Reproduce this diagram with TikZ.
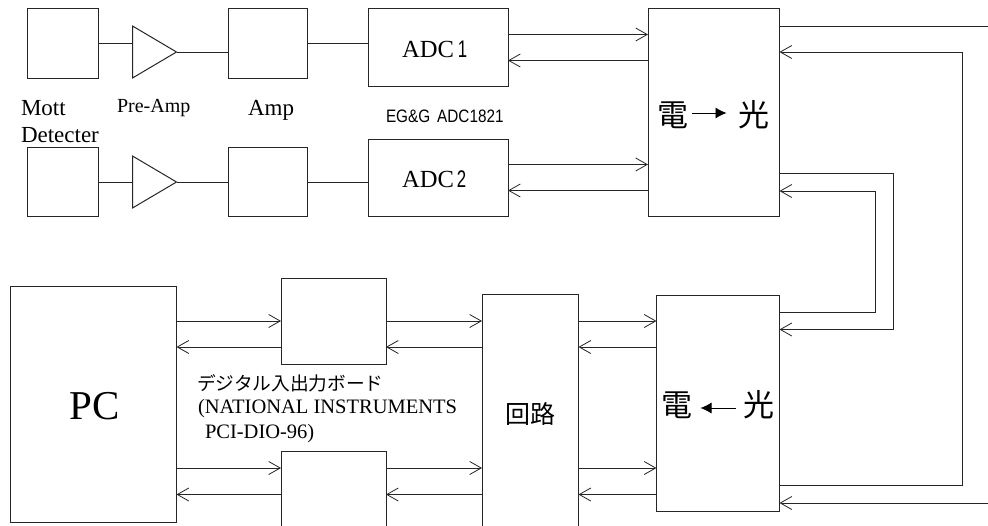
\documentclass[tikz,border=0pt]{standalone}
\usepackage{fontspec}
\setmainfont{Liberation Serif}
\newfontfamily\jpf{Noto Sans CJK JP}
\newfontfamily\arf{Liberation Sans}
\usetikzlibrary{arrows.meta}
\newcommand{\fs}[1]{\fontsize{#1}{#1}\selectfont}
\definecolor{ln}{gray}{0.15}
\tikzset{
  x=1pt,y=-1pt,
  box/.style={draw=ln,line width=1pt,rectangle,inner sep=0pt,outer sep=0pt,anchor=north west},
  txt/.style={inner sep=0pt,outer sep=0pt,anchor=base west,text=black,align=left},
  ctr/.style={inner sep=0pt,outer sep=0pt,anchor=center,text=black},
  sig/.style={-{Straight Barb[length=11.5pt,width=13pt,line width=0.8pt]}},
  solid/.style={-{Latex[length=11pt,width=11pt]},line width=0.8pt}
}
\newcommand{\bx}[5]{\node[box,minimum width=#4pt-#2pt,minimum height=#5pt-#3pt] (#1) at (#2,#3) {};}
\begin{document}
\begin{tikzpicture}[line width=1pt,color=ln]
\fill[white] (0,0) rectangle (988,525);
\clip (0,0) rectangle (988,525);
\bx{det1}{27.5}{8.5}{98}{78}
\bx{det2}{27.5}{147.5}{98}{216.5}
\bx{amp1}{228.5}{8.5}{307}{78}
\bx{amp2}{228.5}{147.5}{307}{216.5}
\bx{adc1}{368.5}{8.5}{508}{86.5}
\bx{adc2}{368.5}{139}{508}{216.5}
\bx{eo1}{648}{8.5}{779.5}{216.5}
\bx{eo2}{656.5}{295}{779.5}{511.5}
\bx{pc}{10}{286}{176.5}{522}
\bx{board1}{281}{278}{386}{364}
\bx{board2}{281}{451}{386}{530}
\bx{circ}{482}{294.5}{578.5}{530}
% triangles
\coordinate (t1i) at (132.5,43); \coordinate (t1o) at (176.5,52);
\coordinate (t2i) at (132.5,182); \coordinate (t2o) at (176.5,182);
\draw (132.5,26) -- (t1o) -- (132.5,78) -- cycle;
\draw (132.5,156) -- (t2o) -- (132.5,208) -- cycle;
% analog chain
\draw (det1.east |- t1i) -- (t1i);
\draw (t1o) -- (amp1.west |- t1o);
\draw (amp1.east |- t1i) -- (adc1.west |- t1i);
\draw (det2.east |- t2i) -- (t2i);
\draw (t2o) -- (amp2.west |- t2o);
\draw (amp2.east |- t2i) -- (adc2.west |- t2i);
% ADC <-> E/O 1
\draw[sig] (adc1.east |- 0,34.5) -- (eo1.west |- 0,34.5);
\draw[sig] (eo1.west |- 0,60.5) -- (adc1.east |- 0,60.5);
\draw[sig] (adc2.east |- 0,164.5) -- (eo1.west |- 0,164.5);
\draw[sig] (eo1.west |- 0,190.5) -- (adc2.east |- 0,190.5);
% right side
\coordinate (edgeA) at (988,26);
\coordinate (edgeB) at (988,503);
\draw (eo1.east |- edgeA) -- (edgeA);
\draw[sig] (eo2.east |- 0,485.5) -- (962.5,485.5) -- (962.5,52) -- (eo1.east |- 0,52);
\draw[sig] (edgeB) -- (eo2.east |- edgeB);
\draw[sig] (eo1.east |- 0,173.5) -- (893,173.5) -- (893,329.5) -- (eo2.east |- 0,329.5);
\draw[sig] (eo2.east |- 0,312) -- (875.5,312) -- (875.5,191) -- (eo1.east |- 0,191);
% PC <-> boards
\draw[sig] (pc.east |- 0,321) -- (board1.west |- 0,321);
\draw[sig] (board1.west |- 0,347) -- (pc.east |- 0,347);
\draw[sig] (pc.east |- 0,468) -- (board2.west |- 0,468);
\draw[sig] (board2.west |- 0,494.5) -- (pc.east |- 0,494.5);
% boards <-> circuit
\draw[sig] (board1.east |- 0,321) -- (circ.west |- 0,321);
\draw[sig] (circ.west |- 0,347) -- (board1.east |- 0,347);
\draw[sig] (board2.east |- 0,468) -- (circ.west |- 0,468);
\draw[sig] (circ.west |- 0,494.5) -- (board2.east |- 0,494.5);
% circuit <-> E/O 2
\draw[sig] (circ.east |- 0,321) -- (eo2.west |- 0,321);
\draw[sig] (eo2.west |- 0,347) -- (circ.east |- 0,347);
\draw[sig] (circ.east |- 0,468) -- (eo2.west |- 0,468);
\draw[sig] (eo2.west |- 0,494.5) -- (circ.east |- 0,494.5);
% labels
\node[txt,font=\fs{23}] (l1) at (21,115) {Mott};
\node[txt,font=\fs{23}] (l2) at (21,142) {Detecter};
\node[txt,font=\fs{20}] (l3) at (117,112) {Pre-Amp};
\node[txt,font=\fs{23}] (l4) at (248,115) {Amp};
\node[txt,font=\fs{24.6}] (l5) at (402,57) {ADC\hspace{4pt}{\arf\fs{24}\addfontfeature{FakeStretch=0.7}1}};
\node[txt,font=\fs{24.6}] (l6) at (402,187) {ADC\hspace{3pt}{\arf\fs{24}\addfontfeature{FakeStretch=0.7}2}};
\node[txt,font=\arf\fs{18}] (l7) at (386,122.5) {\addfontfeature{FakeStretch=0.85}EG\&G\hspace{7pt}ADC1821};
\node[ctr,font=\jpf\fs{31}] (e1) at (673,115) {電};
\node[ctr,font=\jpf\fs{31}] (o1) at (754,115) {光};
\node[ctr,font=\jpf\fs{31}] (e2) at (677,405) {電};
\node[ctr,font=\jpf\fs{31}] (o2) at (759,405) {光};
\draw[solid,black] (e1.east) ++(3,-2) -- ++(35,0);
\draw[solid,black] (o2.west) ++(-8,3) -- ++(-35,0);
\node[ctr,font=\fs{41}] (pcl) at (95,406) {PC};
\node[ctr,font=\jpf\fs{25}] (cl) at (530,414) {回路};
\node[txt,font=\jpf\fs{18.7}] (j1) at (197,390) {デジタル入出力ボード};
\node[txt,font=\fs{20.5}] (j2) at (198,413) {(NATIONAL INSTRUMENTS};
\node[txt,font=\fs{20.5}] (j3) at (205,438) {PCI-DIO-96)};
\end{tikzpicture}
\end{document}
